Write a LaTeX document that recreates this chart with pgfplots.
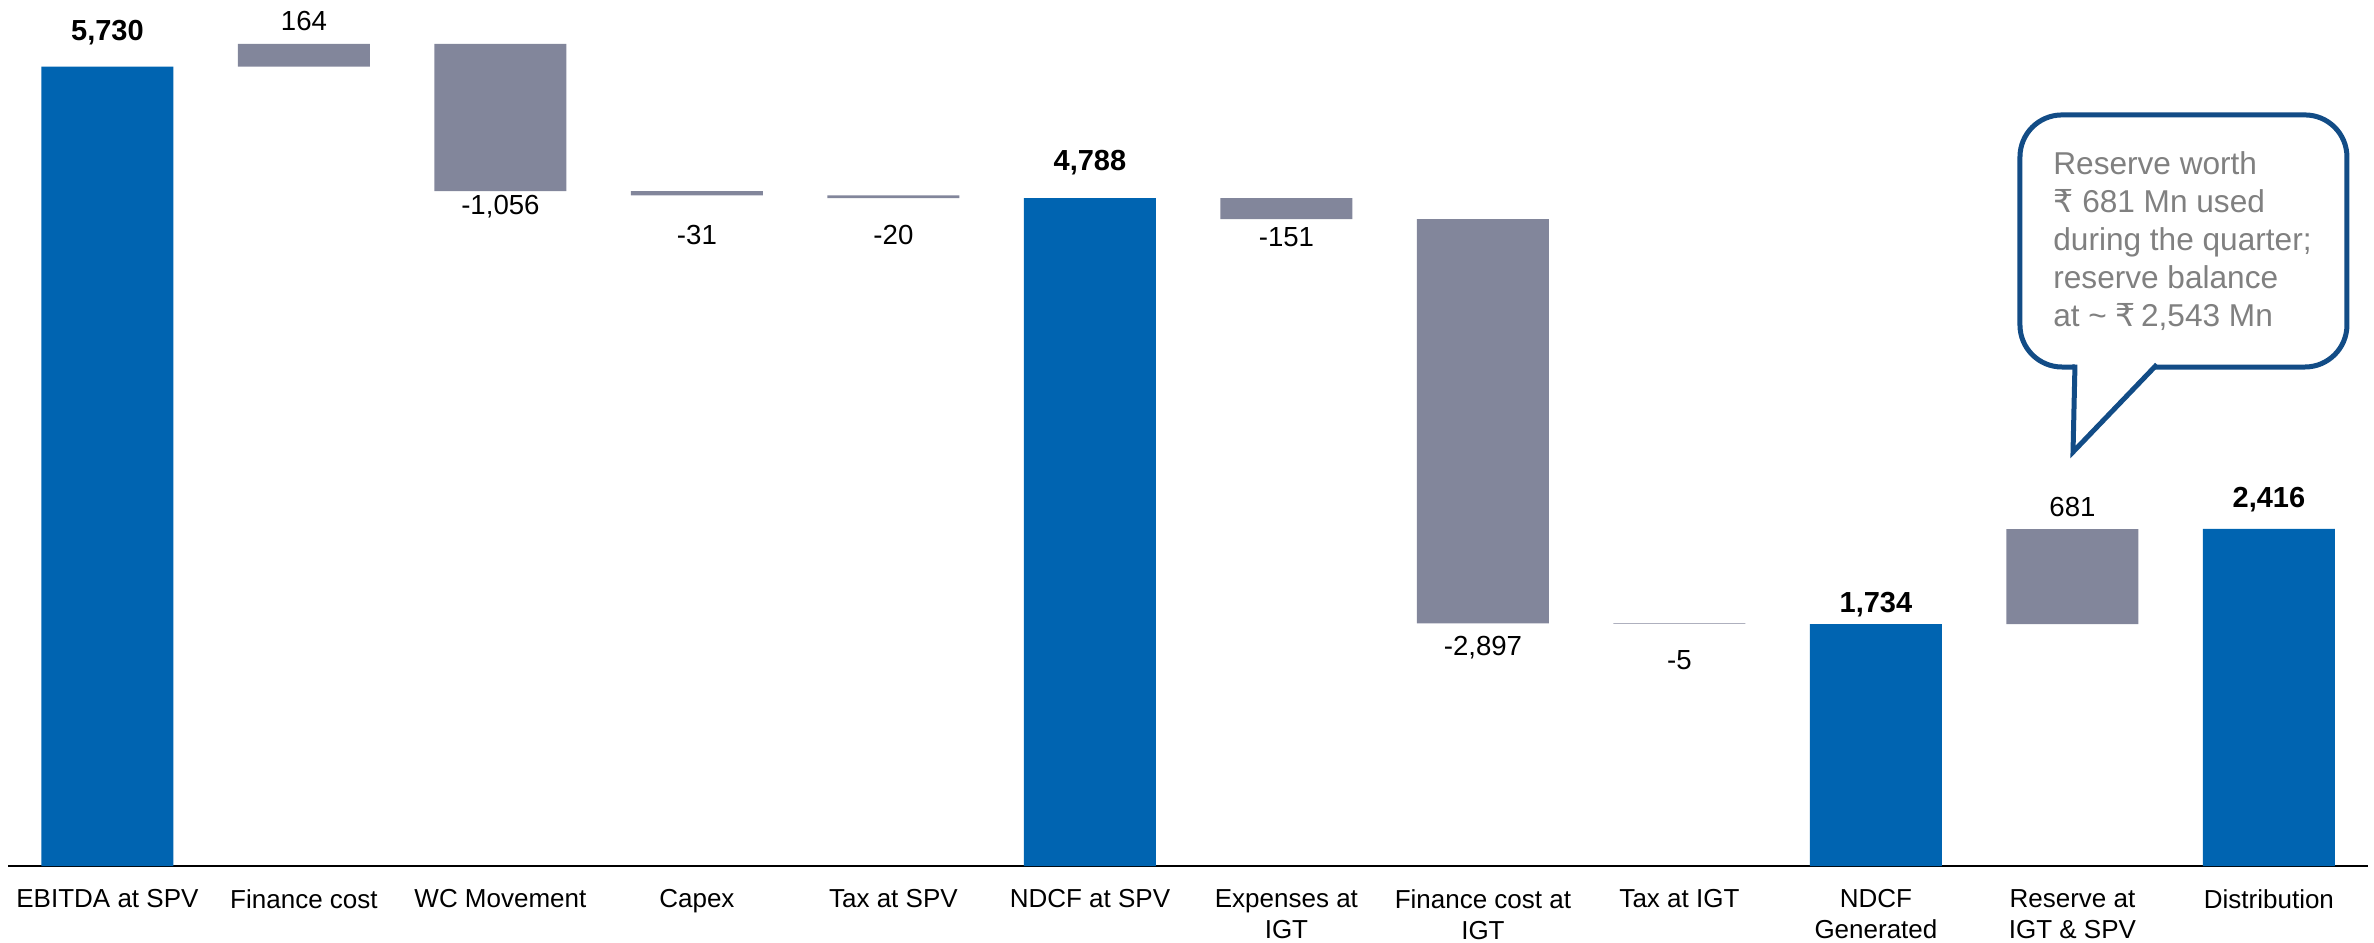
\documentclass[border=0pt]{standalone}
\usepackage{pgfplots}
\pgfplotsset{compat=1.18}
\usepackage{fontspec}
\setmainfont{Liberation Sans}
\newfontfamily\rupeefont{DejaVu Sans}
\definecolor{barblue}{RGB}{0,100,177}
\definecolor{bargrey}{RGB}{130,134,155}
\definecolor{callblue}{RGB}{18,76,134}
\definecolor{calltext}{RGB}{128,128,128}
\begin{document}
\begin{tikzpicture}
\begin{axis}[
  width=1180pt, height=433pt, scale only axis,
  xmin=-0.506, xmax=11.504, ymin=0, ymax=6208,
  ybar stacked, bar width=0.672,
  hide y axis, axis x line*=bottom,
  x axis line style={-, line width=1.35pt, black},
  xtick={0,...,11},
  xticklabels={EBITDA at SPV, Finance cost, WC Movement, Capex, Tax at SPV, NDCF at SPV, {Expenses at\\IGT}, {Finance cost at\\IGT}, Tax at IGT, {NDCF\\Generated}, {Reserve at\\IGT \& SPV}, Distribution},
  major tick length=0pt,
  xticklabel style={font=\fontsize{13}{15.5}\selectfont, align=center, anchor=north, inner sep=0pt, yshift=-11.5pt},
  clip=false,
]
% invisible base
\addplot[draw=none, fill=none] coordinates {(0,0) (1,5730) (2,4838) (3,4807) (4,4787) (5,0) (6,4637) (7,1740) (8,1735) (9,0) (10,1734) (11,0)};
% grey changes
\addplot[draw=none, fill=bargrey] coordinates {(0,0) (1,164) (2,1056) (3,31) (4,20) (5,0) (6,151) (7,2897) (8,5) (9,0) (10,681) (11,0)};
% blue totals
\addplot[draw=none, fill=barblue] coordinates {(0,5730) (1,0) (2,0) (3,0) (4,0) (5,4788) (6,0) (7,0) (8,0) (9,1734) (10,0) (11,2416)};

\node[font=\fontsize{14.5}{16}\selectfont\bfseries, inner sep=0pt] at (axis cs:0,5971) {5,730};
\node[font=\fontsize{13.8}{16}\selectfont, inner sep=0pt] at (axis cs:1,6060) {164};
\node[font=\fontsize{13.8}{16}\selectfont, inner sep=0pt] at (axis cs:2,4726) {-1,056};
\node[font=\fontsize{13.8}{16}\selectfont, inner sep=0pt] at (axis cs:3,4523) {-31};
\node[font=\fontsize{13.8}{16}\selectfont, inner sep=0pt] at (axis cs:4,4523) {-20};
\node[font=\fontsize{14.5}{16}\selectfont\bfseries, inner sep=0pt] at (axis cs:5,5041) {4,788};
\node[font=\fontsize{13.8}{16}\selectfont, inner sep=0pt] at (axis cs:6,4509) {-151};
\node[font=\fontsize{13.8}{16}\selectfont, inner sep=0pt] at (axis cs:7,1563) {-2,897};
\node[font=\fontsize{13.8}{16}\selectfont, inner sep=0pt] at (axis cs:8,1477) {-5};
\node[font=\fontsize{14.5}{16}\selectfont\bfseries, inner sep=0pt] at (axis cs:9,1871) {1,734};
\node[font=\fontsize{13.8}{16}\selectfont, inner sep=0pt] at (axis cs:10,2576) {681};
\node[font=\fontsize{14.5}{16}\selectfont\bfseries, inner sep=0pt] at (axis cs:11,2624) {2,416};

\coordinate (tA) at (axis cs:10.013,3577);
\coordinate (tTip) at (axis cs:10.003,2968);
\coordinate (tB) at (axis cs:10.42,3577);
\coordinate (bBR) at (axis cs:11.397,3577);
\coordinate (bTR) at (axis cs:11.397,5384);
\coordinate (bTL) at (axis cs:9.733,5384);
\coordinate (bBL) at (axis cs:9.733,3577);
\coordinate (txt) at (axis cs:9.901,5125);
\end{axis}
% callout box
\draw[line width=2.5pt, callblue, fill=white, rounded corners=21pt] (bBL) rectangle (bTR);
\fill[white] ([yshift=2pt]tA) -- (tTip) -- ([yshift=2pt]tB) -- cycle;
\draw[line width=2.5pt, callblue, line join=miter] ([yshift=1.25pt]tA) -- (tTip) -- ([yshift=1.25pt,xshift=1pt]tB);
\node[anchor=north west, inner sep=0pt, align=left, text=calltext,
  font=\fontsize{15.8}{19}\selectfont] at (txt)
  {Reserve worth\\{\rupeefont ₹} 681 Mn used\\during the quarter;\\reserve balance\\at \char"007E\ {\rupeefont ₹}\,2,543 Mn};
\pgfresetboundingbox
\path[use as bounding box] (-4pt,-38.5pt) rectangle (1183pt,433pt);
\end{tikzpicture}
\end{document}
